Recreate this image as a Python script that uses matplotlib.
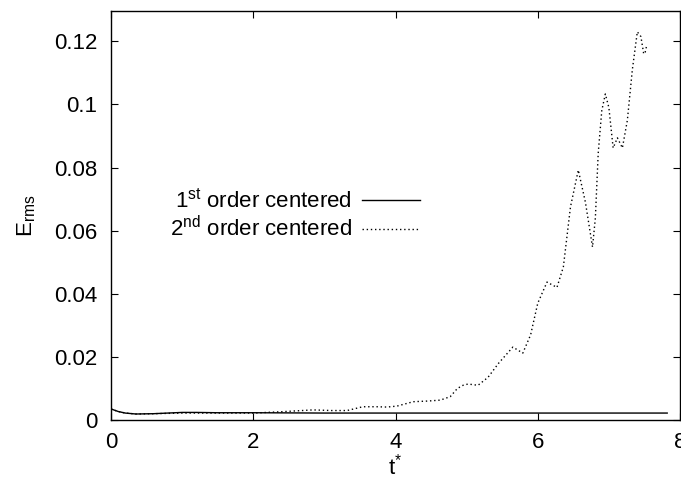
import matplotlib
matplotlib.use('Agg')
import matplotlib.pyplot as plt
import numpy as np

plt.rcParams['font.family'] = ['Liberation Sans', 'DejaVu Sans']
plt.rcParams['mathtext.fontset'] = 'custom'
plt.rcParams['mathtext.rm'] = 'Liberation Sans'
plt.rcParams['mathtext.it'] = 'Liberation Sans'

# 1st order centered scheme (solid)
t_first = [0.0, 0.1, 0.2, 0.35, 0.6, 0.8, 1.0, 1.2, 1.5, 2.0, 3.0, 4.0, 5.0, 6.0, 7.0, 7.82]
e_first = [0.0035, 0.0027, 0.0022, 0.0019, 0.0020, 0.0022, 0.0024, 0.0024, 0.0023, 0.0023,
           0.0022, 0.0022, 0.0022, 0.0022, 0.0022, 0.0022]

# 2nd order centered scheme (dotted)
t_second = [0.0, 0.1, 0.2, 0.35, 0.6, 0.8, 1.0, 1.5, 2.0, 2.38, 2.84, 3.1, 3.32, 3.54, 3.74,
            3.88, 4.02, 4.25, 4.45, 4.63, 4.77, 4.87, 4.95, 5.02, 5.16, 5.3, 5.45, 5.65,
            5.79, 5.9, 6.0, 6.13, 6.27, 6.36, 6.46, 6.57, 6.67, 6.77, 6.81, 6.85, 6.9,
            6.95, 7.0, 7.06, 7.12, 7.19, 7.26, 7.33, 7.4, 7.45, 7.49, 7.51, 7.53]
e_second = [0.0035, 0.0027, 0.0022, 0.0019, 0.0020, 0.0021, 0.0022, 0.0022, 0.0022, 0.0026,
            0.0032, 0.0030, 0.0030, 0.0042, 0.0042, 0.0041, 0.0044, 0.0058, 0.0060, 0.0063,
            0.0074, 0.0100, 0.0110, 0.0114, 0.0110, 0.0135, 0.0180, 0.0231, 0.0212, 0.0270,
            0.0370, 0.0437, 0.0420, 0.0485, 0.0675, 0.0792, 0.0690, 0.0548, 0.0640, 0.0845,
            0.0980, 0.1033, 0.0990, 0.0862, 0.0894, 0.0862, 0.0950, 0.1110, 0.1230, 0.1215,
            0.1160, 0.1165, 0.1185]

fig = plt.figure(figsize=(6.81, 4.84), dpi=100)
ax = fig.add_axes([111 / 681, 1 - 420 / 484, (680 - 111) / 681, (420 - 11) / 484])

ax.plot(t_first, e_first, color='black', lw=1.0, label=r'1$^{\mathrm{st}}$ order centered')
ax.plot(t_second, e_second, color='black', lw=1.0, linestyle=(0, (1, 2)),
        label=r'2$^{\mathrm{nd}}$ order centered')

ax.set_xlim(0, 8)
ax.set_ylim(0, 0.1296)
ax.set_xticks([0, 2, 4, 6, 8])
ax.set_xticklabels(['0', '2', '4', '6', '8'])
ax.set_yticks([0, 0.02, 0.04, 0.06, 0.08, 0.1, 0.12])
ax.set_yticklabels(['0', '0.02', '0.04', '0.06', '0.08', '0.1', '0.12'])
ax.tick_params(direction='in', length=5, width=0.8, labelsize=16, top=True, right=True)
ax.tick_params(axis='y', pad=10)
ax.tick_params(axis='x', pad=9)
for s in ax.spines.values():
    s.set_linewidth(1.0)

ax.set_xlabel(r't$^{*}$', fontsize=16, labelpad=0)
ax.set_ylabel(r'E$_{\mathrm{rms}}$', fontsize=16, labelpad=11)

ax.legend(loc='upper right', bbox_to_anchor=(420 / 681, 1 - 189 / 484),
          bbox_transform=fig.transFigure, frameon=False, markerfirst=False,
          fontsize=16, handlelength=2.6, handletextpad=0.45, labelspacing=0.15,
          borderpad=0, borderaxespad=0)

fig.savefig('out.png', dpi=100)
